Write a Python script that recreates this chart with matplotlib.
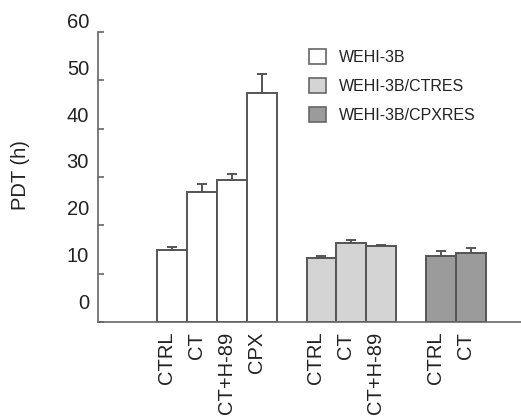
import matplotlib
matplotlib.use("Agg")
import matplotlib.pyplot as plt
import matplotlib.transforms as mtransforms
from matplotlib.patches import Patch

plt.rcParams['font.family'] = ['Liberation Sans', 'DejaVu Sans']

# data
groups = ['WEHI-3B', 'WEHI-3B/CTRES', 'WEHI-3B/CPXRES']
group_labels = [['CTRL', 'CT', 'CT+H-89', 'CPX'],
                ['CTRL', 'CT', 'CT+H-89'],
                ['CTRL', 'CT']]
group_means = [[15.0, 27.0, 29.4, 47.3],
               [13.3, 16.4, 15.7],
               [13.7, 14.2]]
group_errs = [[0.5, 1.6, 1.2, 4.0],
              [0.4, 0.6, 0.3],
              [1.0, 1.1]]
colors = ['white', '#d4d4d4', '#9b9b9b']
yticks = [0, 10, 20, 30, 40, 50, 60]

edge = '#555555'

fig = plt.figure(figsize=(5.21, 4.18), dpi=100)
ax = fig.add_axes([98/521, 1-322/418, 1-98/521, (322-32)/418])

pos = 0
xt, xl = [], []
for g in range(len(groups)):
    xs = list(range(pos, pos + len(group_means[g])))
    lower = [0]*len(xs)
    ax.bar(xs, group_means[g], width=1.0, color=colors[g], edgecolor=edge,
           linewidth=1.4, yerr=[lower, group_errs[g]], capsize=3.6,
           error_kw=dict(ecolor=edge, elinewidth=1.4, capthick=1.4), zorder=2)
    xt += xs
    xl += group_labels[g]
    pos = xs[-1] + 2

ax.set_xlim(-2.47, 11.67)
ax.set_ylim(0, 60)

for s in ['top', 'right']:
    ax.spines[s].set_visible(False)
for s in ['left', 'bottom']:
    ax.spines[s].set_color('#666666')
    ax.spines[s].set_linewidth(1.2)

ax.set_yticks(yticks)
ax.set_yticklabels([])
ax.tick_params(axis='y', direction='in', length=4.5, width=1.2, color='#666666')

# y labels sit a bit above their ticks in the original
off_y = mtransforms.ScaledTranslation(-0.09, 0, fig.dpi_scale_trans)
for v in yticks:
    ax.text(0, 3.9 + 0.967*v, str(v), transform=ax.get_yaxis_transform() + off_y,
            ha='right', va='center', fontsize=14.5, color='#222222', clip_on=False)

ax.set_xticks(xt)
ax.set_xticklabels(xl, rotation=90, va='top', ha='center', fontsize=14.5, color='#222222')
ax.tick_params(axis='x', length=0, pad=7)
off_x = mtransforms.ScaledTranslation(-0.055, 0, fig.dpi_scale_trans)
for lab in ax.get_xticklabels():
    lab.set_transform(lab.get_transform() + off_x)

fig.text(21/521, 1-175/418, 'PDT (h)', rotation=90, ha='center', va='center',
         fontsize=14.5, color='#222222')

handles = [Patch(facecolor=colors[i], edgecolor='#666666', linewidth=1.2) for i in range(3)]
ax.legend(handles, groups, loc='upper left', bbox_to_anchor=(309/521, 1-49/418),
          bbox_transform=fig.transFigure, frameon=False, fontsize=11.5,
          handlelength=1.05, handleheight=1.05, handletextpad=0.85,
          labelspacing=0.82, borderpad=0, borderaxespad=0, labelcolor='#222222')

fig.savefig('out.png', dpi=100)
